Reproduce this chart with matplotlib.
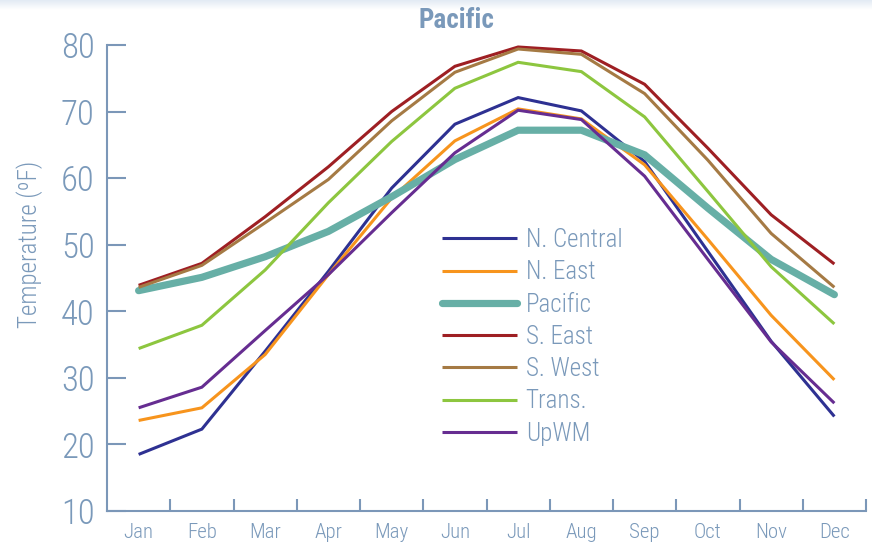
import matplotlib
matplotlib.use("Agg")
import matplotlib.pyplot as plt
import numpy as np
from matplotlib.ticker import FixedLocator, NullFormatter

months = ["Jan", "Feb", "Mar", "Apr", "May", "Jun", "Jul", "Aug", "Sep", "Oct", "Nov", "Dec"]
yticks = [10, 20, 30, 40, 50, 60, 70, 80]

n_central = [18.5, 22.3, 34.0, 46.0, 58.5, 68.1, 72.1, 70.1, 62.5, 49.0, 35.5, 24.2]
n_east = [23.6, 25.5, 33.5, 45.5, 57.0, 65.6, 70.4, 68.9, 62.0, 50.8, 39.4, 29.7]
pacific = [43.1, 45.1, 48.2, 52.0, 57.2, 62.8, 67.2, 67.2, 63.5, 55.5, 47.8, 42.5]
s_east = [43.9, 47.2, 54.2, 61.7, 70.0, 76.8, 79.7, 79.1, 74.1, 64.5, 54.5, 47.1]
s_west = [43.6, 46.9, 53.3, 59.8, 68.6, 75.9, 79.4, 78.6, 72.7, 62.7, 51.7, 43.6]
trans = [34.4, 37.9, 46.2, 56.3, 65.5, 73.5, 77.4, 76.0, 69.2, 58.0, 46.7, 38.1]
upwm = [25.5, 28.6, 37.1, 45.5, 54.8, 63.8, 70.2, 68.8, 60.3, 47.8, 35.4, 26.2]

series = [
    ("N. Central", n_central, "#2E3192", 2.2),
    ("N. East", n_east, "#F7941D", 2.2),
    ("Pacific", pacific, "#67AFA6", 5.2),
    ("S. East", s_east, "#9E1F23", 2.2),
    ("S. West", s_west, "#A57A44", 2.2),
    ("Trans.", trans, "#8DC63F", 2.2),
    ("UpWM", upwm, "#662D91", 2.2),
]

TXT = "#7A99BA"
AX = "#7B97B8"
FAM = ["Roboto Condensed", "PT Sans Narrow", "Archivo Narrow", "DejaVu Sans"]
plt.rcParams["font.family"] = FAM

fig = plt.figure(figsize=(8.72, 5.44), dpi=100)

# faint gradient band at the top
gax = fig.add_axes([0, 1 - 10 / 544, 1, 10 / 544])
grad = np.linspace(0, 1, 20).reshape(-1, 1)
gax.imshow(grad, aspect="auto",
           cmap=matplotlib.colors.LinearSegmentedColormap.from_list("g", ["#E3EBF4", "#FFFFFF"]),
           extent=[0, 1, 0, 1])
gax.axis("off")

ax = fig.add_axes([107 / 872, 33 / 544, (866 - 107) / 872, (511 - 45) / 544])
x = np.arange(len(months))
for name, vals, col, lw in series:
    ax.plot(x, vals, color=col, lw=lw, label=name,
            solid_capstyle="round" if name == "Pacific" else "butt",
            solid_joinstyle="miter")

ax.set_xlim(-0.5, len(months) - 0.5)
ax.set_ylim(10, 80)
ax.set_yticks(yticks)
ax.set_yticklabels([str(v) for v in yticks], family=FAM, fontsize=25, color=TXT, fontweight="light")
ax.set_xticks(x)
ax.set_xticklabels(months, family=FAM, fontsize=15, color=TXT, fontweight="light")
ax.xaxis.set_minor_locator(FixedLocator(np.arange(0.5, len(months), 1.0)))
ax.xaxis.set_minor_formatter(NullFormatter())
ax.tick_params(axis="x", which="major", length=0, pad=9)
ax.tick_params(axis="x", which="minor", direction="in", length=8.5, width=1.5, color=AX)
ax.tick_params(axis="y", which="major", direction="in", length=13.5, width=1.5, color=AX, pad=9)

for s in ["top", "right"]:
    ax.spines[s].set_visible(False)
for s in ["left", "bottom"]:
    ax.spines[s].set_color(AX)
    ax.spines[s].set_linewidth(1.5)

ax.set_ylabel("Temperature (ºF)", family=FAM, fontsize=18, color=TXT, fontweight="light",
              va="center", ha="center")
ax.yaxis.set_label_coords((30 - 107) / 759, (511 - 244) / 466)

fig.text(456 / 872, 1 - 21 / 544, "Pacific", family=FAM, fontsize=19.5, fontweight="bold",
         color=TXT, ha="center", va="center")

leg = ax.legend(loc="upper left", bbox_to_anchor=(442 / 872, 1 - 228 / 544), bbox_transform=fig.transFigure,
                frameon=False, prop={"family": FAM, "size": 18, "weight": "light"},
                handlelength=3.0, handletextpad=0.35,
                labelspacing=0.33, borderpad=0, borderaxespad=0)
for t in leg.get_texts():
    t.set_color(TXT)

fig.savefig("out.png", dpi=100)
